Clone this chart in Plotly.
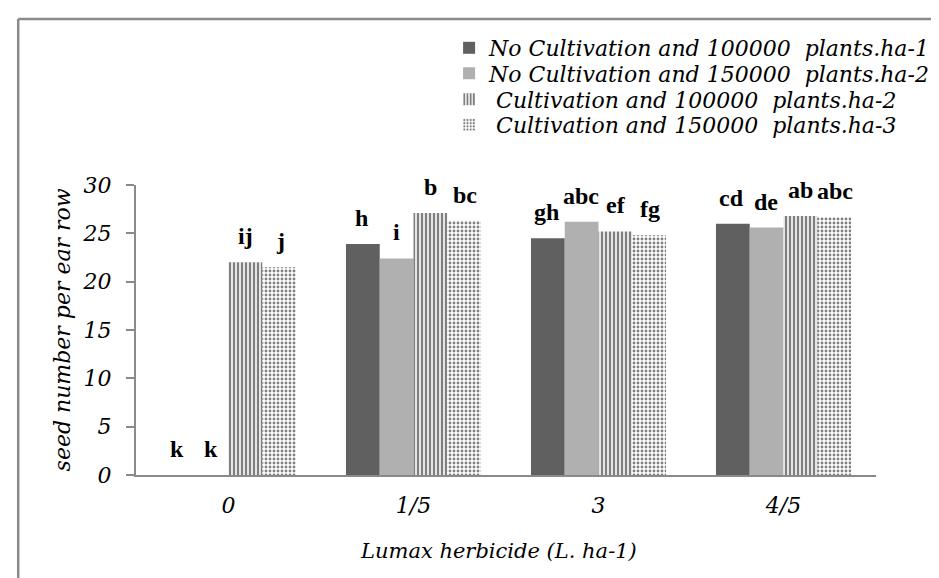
"""Seed number per ear row by Lumax herbicide dose."""

import plotly.graph_objects as go

doses = ["0", "1/5", "3", "4/5"]

series_names = [
    "No Cultivation and 100000\u00a0 plants.ha-1",
    "No Cultivation and 150000\u00a0 plants.ha-2",
    "\u00a0Cultivation and 100000\u00a0 plants.ha-2",
    "\u00a0Cultivation and 150000\u00a0 plants.ha-3",
]

no_cult_100k = [0, 23.9, 24.5, 26.0]
no_cult_150k = [0, 22.4, 26.2, 25.6]
cult_100k = [22.0, 27.1, 25.2, 26.8]
cult_150k = [21.5, 26.3, 24.8, 26.7]

letters_no_cult_100k = ["k", "h", "gh", "cd"]
letters_no_cult_150k = ["k", "i", "abc", "de"]
letters_cult_100k = ["ij", "b", "ef", "ab"]
letters_cult_150k = ["j", "bc", "fg", "abc"]

serif = "Liberation Serif"
serif_it = "DejaVu Serif"  # Liberation Serif has no italic face here

# plot area in pixels
L, R, T, B = 128, 882, 177, 467
W, H = 939, 578
BARGAP = 0.27


def px_x(p):
    return (p - L) / (R - L)


def px_y(p):
    return (B - p) / (B - T)


styles = [
    dict(color="#606060", pattern=dict(shape="")),
    dict(color="#b0b0b0", pattern=dict(shape="")),
    dict(color="white", pattern=dict(shape="|", fgcolor="black", bgcolor="white",
                                     size=4, solidity=0.6, fillmode="overlay")),
    dict(color="white", pattern=dict(shape=".", fgcolor="black", bgcolor="white",
                                     size=4, solidity=0.4, fillmode="overlay")),
]

values = [no_cult_100k, no_cult_150k, cult_100k, cult_150k]
letters = [letters_no_cult_100k, letters_no_cult_150k, letters_cult_100k, letters_cult_150k]

legend_rows = [40, 65.5, 91.5, 117]

fig = go.Figure()
annotations = []
bar_px = (R - L) / len(doses) * (1 - BARGAP) / len(values)
for i, (name, y, txt, style) in enumerate(zip(series_names, values, letters, styles)):
    legend_id = "legend" if i == 0 else f"legend{i + 1}"
    fig.add_trace(go.Bar(
        x=doses,
        y=y,
        name=name,
        legend=legend_id,
        marker=dict(color=style["color"], pattern=style["pattern"],
                    line=dict(width=0)),
    ))
    fig.update_layout({legend_id: dict(
        x=px_x(447), xanchor="left", y=px_y(legend_rows[i]), yanchor="middle",
        font=dict(family=serif_it, size=22, style="italic", color="black"),
        itemwidth=30, bgcolor="rgba(0,0,0,0)",
    )})
    for k, (v, t) in enumerate(zip(y, txt)):
        annotations.append(dict(
            x=k, y=v, text=f"<b>{t}</b>", showarrow=False,
            xanchor="center", yanchor="bottom",
            xshift=(i - 1.5) * bar_px, yshift=11,
            font=dict(family=serif, size=24, color="black"),
        ))

annotations.append(dict(
    x=0.49, y=px_y(543), xref="paper", yref="paper", showarrow=False,
    text="<i>Lumax herbicide (L. ha-1)</i>", xanchor="center", yanchor="middle",
    font=dict(family=serif_it, size=21, color="black"),
))
annotations.append(dict(
    x=px_x(53), y=0.5, xref="paper", yref="paper", showarrow=False,
    text="<i>seed number per ear row</i>", textangle=-90,
    xanchor="center", yanchor="middle",
    font=dict(family=serif_it, size=22, color="black"),
))

fig.update_layout(
    width=W,
    height=H,
    barmode="group",
    bargap=BARGAP,
    bargroupgap=0,
    plot_bgcolor="white",
    paper_bgcolor="white",
    margin=dict(l=L, r=W - R, t=T, b=H - B),
    font=dict(family=serif, size=24, color="black"),
    showlegend=True,
    annotations=annotations,
    xaxis=dict(
        showline=True, linecolor="#8a8a8a", linewidth=2,
        ticks="", showgrid=False, ticklabelstandoff=10,
        tickfont=dict(family=serif_it, size=22, style="italic"),
    ),
    yaxis=dict(
        range=[0, 30], dtick=5,
        showline=True, linecolor="#8a8a8a", linewidth=2,
        ticks="outside", ticklen=8, tickcolor="#8a8a8a", tickwidth=2,
        showgrid=False, zeroline=False, ticklabelstandoff=10,
        tickfont=dict(family=serif_it, size=22, style="italic"),
    ),
    shapes=[
        dict(type="line", xref="paper", yref="paper",
             x0=px_x(8), x1=px_x(W), y0=px_y(11), y1=px_y(11),
             line=dict(color="#8a8a8a", width=2.5)),
        dict(type="line", xref="paper", yref="paper",
             x0=px_x(8), x1=px_x(8), y0=px_y(11), y1=px_y(H),
             line=dict(color="#8a8a8a", width=2.5)),
    ],
)

fig.write_html("out.html")
